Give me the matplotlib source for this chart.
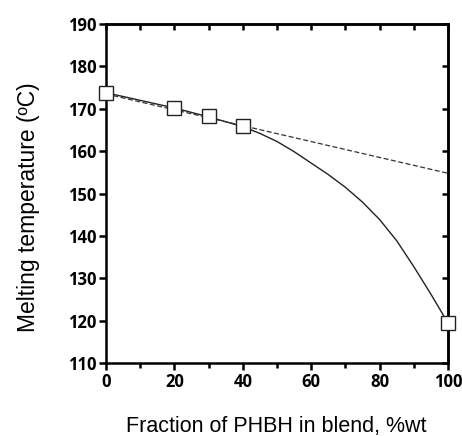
import matplotlib.pyplot as plt

# measured points
fraction = [0, 20, 30, 40, 100]
tm = [173.8, 170.3, 168.2, 166.0, 119.5]

# fitted curve
fit_x = [0, 10, 20, 30, 40, 45, 50, 55, 60, 65, 70, 75, 80, 85, 90, 95, 100]
fit_y = [173.8, 172.0, 170.2, 168.1, 165.8, 164.2, 162.3, 159.9, 157.2, 154.5,
         151.5, 148.0, 143.9, 138.9, 132.8, 126.3, 119.5]

# linear (additive) line
lin_x = [0, 100]
lin_y = [173.5, 154.8]

plt.rcParams['font.family'] = ['Open Sans', 'DejaVu Sans']

fig = plt.figure(figsize=(4.62, 4.36), dpi=100)
ax = fig.add_axes([0.2294, 0.1667, 0.7403, 0.7783])

ax.plot(fit_x, fit_y, color='#222222', lw=1.0, zorder=2)
ax.plot(lin_x, lin_y, color='#333333', lw=0.9, ls=(0, (4, 2)), zorder=2)
ax.plot(fraction, tm, ls='none', marker='s', markersize=10.5,
        markerfacecolor='white', markeredgecolor='#222222', markeredgewidth=1.0,
        clip_on=False, zorder=3)

ax.set_xlim(0, 100)
ax.set_ylim(110, 190)
ax.set_xticks(range(0, 101, 20))
ax.set_xticks(range(10, 100, 20), minor=True)
ax.set_yticks(range(110, 191, 10))

for s in ax.spines.values():
    s.set_linewidth(1.8)

ax.tick_params(axis='both', which='major', direction='out', length=5, width=1.8,
               labelsize=12, pad=2)
ax.tick_params(axis='x', which='minor', direction='out', length=3.5, width=1.8)
for lab in ax.get_xticklabels() + ax.get_yticklabels():
    lab.set_fontweight('bold')

# inward ticks on top and right
top = ax.secondary_xaxis('top')
top.set_xticks(range(0, 101, 10))
top.tick_params(direction='in', length=4.5, width=1.8, labeltop=False)
top.spines['top'].set_linewidth(1.8)
right = ax.secondary_yaxis('right')
right.set_yticks(range(110, 191, 10))
right.tick_params(direction='in', length=4.5, width=1.8, labelright=False)
right.spines['right'].set_linewidth(1.8)

lab_font = ['Liberation Sans', 'DejaVu Sans']
fig.text(276.5 / 462, 1 - 426 / 436, 'Fraction of PHBH in blend, %wt',
         fontsize=15.5, family=lab_font, ha='center', va='center')
fig.text(29 / 462, 1 - 207 / 436, 'Melting temperature (ºC)', rotation=90,
         fontsize=16.5, family=lab_font, ha='center', va='center')

fig.savefig('out.png', dpi=100)
